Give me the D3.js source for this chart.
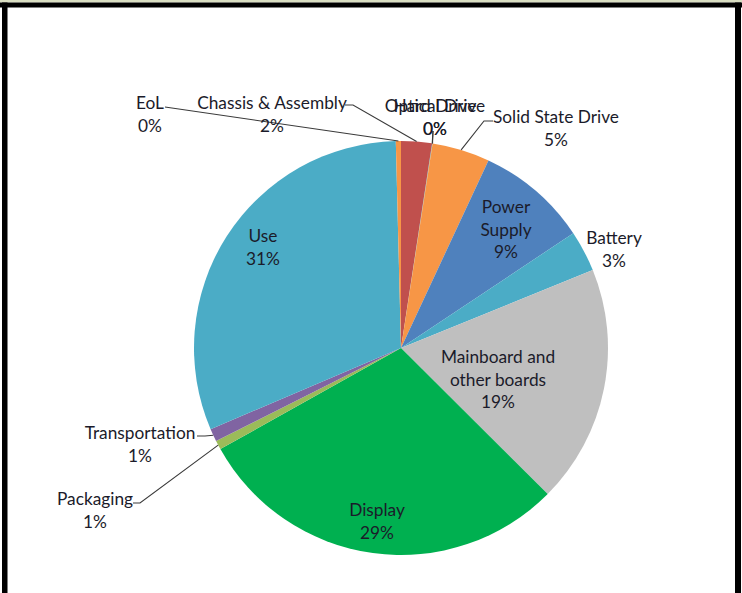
<!DOCTYPE html>
<html><head><meta charset="utf-8">
<script src="https://cdn.jsdelivr.net/npm/d3@7"></script>
<style>body{margin:0;background:#fff;overflow:hidden} svg{display:block}</style>
</head><body>
<svg id="c" width="742" height="593"></svg>
<script>
const categories = ["Chassis & Assembly","Optical Drive","Hard Drive","Solid State Drive","Power Supply","Battery","Mainboard and other boards","Display","Packaging","Transportation","Use","EoL"];
const values = [2.4, 0.02, 0.02, 4.5, 8.7, 3.2, 18.6, 29.4, 0.7, 1.0, 31.0, 0.4];
const nameLines = [["Chassis & Assembly"],["Optical Drive"],["Hard Drive"],["Solid State Drive"],["Power","Supply"],["Battery"],["Mainboard and","other boards"],["Display"],["Packaging"],["Transportation"],["Use"],["EoL"]];
const colors = ["#C0504D","#4F81BD","#9BBB59","#F79646","#4F81BD","#4BACC6","#BFBFBF","#00B050","#9BBB59","#8064A2","#4BACC6","#F79646"];

// label layout (not data): centre x, y of first line, optional leader start points
const labelLayout = [
  {x:272, y:103, leader:[[345,105],[353,105]]},
  {x:435, y:106, leader:[[433,131]]},
  {x:435, y:106, leader:[[433,131]]},
  {x:556, y:117, leader:[[493,121],[484,121]]},
  {x:506, y:207},
  {x:614, y:238},
  {x:498, y:357},
  {x:377, y:510},
  {x:95,  y:499, leader:[[133,503],[140,503]]},
  {x:140, y:433, leader:[[197,436],[205,436]]},
  {x:263, y:236},
  {x:150, y:103, leader:[[165,107]]}
];

const W = 742, H = 593;
const cx = 401, cy = 348, R = 207;
const FONT = "Lato, 'Open Sans', sans-serif";
const LINE = 22.5;
const fs = 17.3;

const svg = d3.select("#c");
svg.append("rect").attr("width", W).attr("height", H).attr("fill", "#fff");

// frame
svg.append("rect").attr("x",0).attr("y",0).attr("width",W).attr("height",2.5).attr("fill","#D9DEC2");
svg.append("rect").attr("x",0).attr("y",2.5).attr("width",W).attr("height",5).attr("fill","#000");
svg.append("rect").attr("x",2).attr("y",2.5).attr("width",5.5).attr("height",H).attr("fill","#000");
svg.append("rect").attr("x",735).attr("y",2.5).attr("width",6).attr("height",H).attr("fill","#000");

const total = d3.sum(values);
const pie = d3.pie().sort(null).value(d => d)(values);
const arc = d3.arc().innerRadius(0).outerRadius(R);

const g = svg.append("g").attr("transform", `translate(${cx},${cy})`);
g.selectAll("path.slice").data(pie).join("path")
  .attr("class","slice")
  .attr("d", arc)
  .attr("fill", (d,i) => colors[i]);

// leader lines
const edge = d => { const a = (d.startAngle + d.endAngle)/2; return [cx + R*Math.sin(a), cy - R*Math.cos(a)]; };
const lineGen = d3.line();
pie.forEach((d,i) => {
  const L = labelLayout[i];
  if (!L.leader) return;
  svg.append("path").attr("d", lineGen([...L.leader, edge(d)]))
    .attr("fill","none").attr("stroke","#3a3a3a").attr("stroke-width",1.1);
});

// labels
pie.forEach((d,i) => {
  const L = labelLayout[i];
  const lines = [...nameLines[i], Math.round(values[i]/total*100) + "%"];
  const t = svg.append("text").attr("text-anchor","middle")
    .attr("font-family", FONT).attr("font-size", fs).attr("fill","#1b1b2a");
  lines.forEach((s,k) => {
    t.append("tspan").attr("x", L.x).attr("y", L.y + k*LINE).attr("dy","0.35em").text(s);
  });
});
</script>
</body></html>
